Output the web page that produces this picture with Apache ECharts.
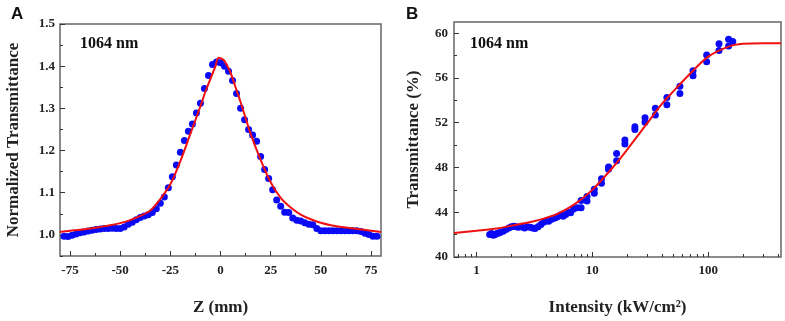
<!DOCTYPE html>
<html>
<head>
<meta charset="utf-8">
<script src="https://cdn.jsdelivr.net/npm/echarts@6/dist/echarts.min.js"></script>
<style>
  html, body { margin: 0; padding: 0; background: #fff; }
  #chart { width: 785px; height: 321px; }
</style>
</head>
<body>
<div id="chart"></div>
<script>
// panel A: Z-scan, normalized transmittance (dots) and fit (line)
const zA = [-78, -76, -74, -72, -70, -68, -66, -64, -62, -60, -58, -56, -54, -52, -50, -48, -46, -44, -42, -40,
  -38, -36, -34, -32, -30, -28, -26, -24, -22, -20, -18, -16, -14, -12, -10, -8, -6, -4, -2, 0,
  2, 4, 6, 8, 10, 12, 14, 16, 18, 20, 22, 24, 26, 28, 30, 32, 34, 36, 38, 40,
  42, 44, 46, 48, 50, 52, 54, 56, 58, 60, 62, 64, 66, 68, 70, 72, 74, 76, 78];
const tA = [0.997, 0.996, 0.999, 1.002, 1.005, 1.007, 1.009, 1.011, 1.013, 1.014, 1.015, 1.015, 1.016, 1.015, 1.015, 1.019, 1.025, 1.030, 1.036, 1.041,
  1.045, 1.048, 1.053, 1.062, 1.075, 1.090, 1.112, 1.138, 1.166, 1.196, 1.224, 1.246, 1.263, 1.289, 1.312, 1.347, 1.378, 1.404, 1.410, 1.408,
  1.400, 1.388, 1.366, 1.335, 1.300, 1.273, 1.250, 1.237, 1.222, 1.186, 1.155, 1.134, 1.107, 1.083, 1.068, 1.054, 1.053, 1.040, 1.035, 1.033,
  1.029, 1.025, 1.024, 1.015, 1.010, 1.010, 1.010, 1.010, 1.010, 1.010, 1.010, 1.010, 1.010, 1.010, 1.008, 1.004, 1.001, 0.997, 0.997];
const zFitA = [-80, -75, -70, -65, -60, -55, -50, -45, -40, -35, -30, -25, -20, -15, -10, -7.5, -5, -2.5, -1, 1.5,
  2.5, 5, 7.5, 10, 15, 20, 25, 30, 35, 40, 45, 50, 55, 60, 65, 70, 75, 80];
const tFitA = [1.007, 1.010, 1.012, 1.015, 1.019, 1.023, 1.028, 1.035, 1.045, 1.058, 1.085, 1.120, 1.175, 1.240, 1.305, 1.340, 1.370, 1.400, 1.420, 1.415,
  1.408, 1.385, 1.350, 1.315, 1.240, 1.178, 1.125, 1.088, 1.065, 1.048, 1.037, 1.029, 1.023, 1.019, 1.016, 1.013, 1.010, 1.007];
const xLabelsA = [-75, -50, -25, 0, 25, 50, 75];
const xMinorA = [-62.5, -37.5, -12.5, 12.5, 37.5, 62.5];
const yLabelsA = [1.0, 1.1, 1.2, 1.3, 1.4, 1.5];
const yMinorA = [0.95, 1.05, 1.15, 1.25, 1.35, 1.45];

// panel B: transmittance vs intensity
const intensityB = [1.30, 1.35, 1.40, 1.45, 1.50, 1.55, 1.60, 1.70, 1.80, 1.90, 2.0, 2.1, 2.2, 2.3, 2.45, 2.6, 2.75, 2.9, 3.05, 3.2,
  3.4, 3.6, 3.8, 4.0, 4.2, 4.4, 4.6, 4.8, 5.0, 5.3, 5.6, 5.9, 6.2, 6.5, 6.9, 7.4, 8.0, 8.0, 9.0, 9.0,
  10.4, 10.4, 12.0, 12.0, 13.8, 13.8, 16.2, 16.2, 19.1, 19.1, 23.3, 23.3, 28.5, 28.5, 35, 35, 44, 44, 57, 57,
  74, 74, 97, 97, 124, 124, 150, 150, 163];
const transB = [42.0, 42.1, 41.95, 42.0, 42.1, 42.15, 42.2, 42.3, 42.45, 42.6, 42.7, 42.75, 42.7, 42.65, 42.7, 42.6, 42.7, 42.65, 42.6, 42.55,
  42.7, 42.9, 43.1, 43.25, 43.2, 43.35, 43.45, 43.5, 43.6, 43.75, 43.65, 43.8, 44.0, 43.95, 44.3, 44.4, 44.4, 45.05, 45.0, 45.4,
  45.7, 46.05, 46.6, 47.0, 47.85, 48.05, 48.6, 49.25, 50.1, 50.45, 51.4, 51.65, 52.05, 52.45, 52.7, 53.3, 53.6, 54.25, 54.6, 55.25,
  56.2, 56.65, 57.45, 58.05, 58.45, 59.05, 58.85, 59.45, 59.25];
const intensityFitB = [0.64, 1, 1.5, 2, 3, 4, 5, 7, 10, 15, 20, 30, 40, 50, 70, 100, 150, 200, 300, 425];
const transFitB = [42.15, 42.35, 42.55, 42.8, 43.15, 43.5, 43.85, 44.7, 46.0, 48.0, 49.6, 52.0, 53.7, 54.8, 56.4, 57.9, 58.8, 59.05, 59.1, 59.1];
const xLabelsB = [1, 10, 100];
const xMinorB = [0.7, 0.8, 0.9, 2, 3, 4, 5, 6, 7, 8, 9, 20, 30, 40, 50, 60, 70, 80, 90, 200, 300, 400];
const yLabelsB = [40, 44, 48, 52, 56, 60];
const yMinorB = [42, 46, 50, 54, 58];

const serif = "'Liberation Serif', 'Times New Roman', serif";
const tickColor = "#333";
const labelStyle = { fontFamily: serif, fontWeight: "bold", fontSize: 13, color: "#222" };
const nameStyle = { fontFamily: serif, fontWeight: "bold", fontSize: 17, color: "#222" };

const pair = (xs, ys) => xs.map((x, i) => [x, ys[i]]);

const majorAxis = (extra, labels, margin, fmt) => Object.assign({
  axisLine: { show: false, onZero: false },
  splitLine: { show: false },
  axisTick: { show: true, inside: true, length: 5, customValues: labels, lineStyle: { color: tickColor, width: 1 } },
  axisLabel: Object.assign({ margin: margin, customValues: labels, formatter: fmt }, labelStyle),
}, extra);

const minorAxis = (extra, ticks) => Object.assign({
  axisLine: { show: false, onZero: false },
  splitLine: { show: false },
  axisLabel: { show: false },
  axisTick: { show: true, inside: true, length: 3, customValues: ticks, lineStyle: { color: tickColor, width: 1 } },
}, extra);

const plain = (v) => String(v);
const oneDecimal = (v) => Number(v).toFixed(1);

const chart = echarts.init(document.getElementById("chart"));
chart.setOption({
  backgroundColor: "#fff",
  animation: false,
  grid: [
    { left: 60, top: 24, width: 321, height: 237, show: true, borderColor: "#666", borderWidth: 1.5, backgroundColor: "#fff" },
    { left: 454, top: 22, width: 327, height: 240, show: true, borderColor: "#666", borderWidth: 1.5, backgroundColor: "#fff" },
  ],
  xAxis: [
    majorAxis({ type: "value", gridIndex: 0, position: "bottom", min: -80, max: 80,
      name: "Z (mm)", nameLocation: "middle", nameGap: 43, nameTextStyle: nameStyle }, xLabelsA, 8, plain),
    minorAxis({ type: "value", gridIndex: 0, position: "bottom", min: -80, max: 80 }, xMinorA),
    majorAxis({ type: "log", gridIndex: 1, position: "bottom", min: 0.64, max: 425,
      name: "Intensity (kW/cm²)", nameLocation: "middle", nameGap: 42, nameTextStyle: nameStyle }, xLabelsB, 7, plain),
    minorAxis({ type: "log", gridIndex: 1, position: "bottom", min: 0.64, max: 425 }, xMinorB),
  ],
  yAxis: [
    majorAxis({ type: "value", gridIndex: 0, position: "left", min: 0.95, max: 1.5,
      name: "Normalized Transmittance", nameLocation: "middle", nameGap: 38, nameTextStyle: nameStyle }, yLabelsA, 5, oneDecimal),
    minorAxis({ type: "value", gridIndex: 0, position: "left", min: 0.95, max: 1.5 }, yMinorA),
    majorAxis({ type: "value", gridIndex: 1, position: "left", min: 40, max: 61,
      name: "Transmittance (%)", nameLocation: "middle", nameGap: 32, nameTextStyle: nameStyle }, yLabelsB, 6, plain),
    minorAxis({ type: "value", gridIndex: 1, position: "left", min: 40, max: 61 }, yMinorB),
  ],
  graphic: [
    { type: "text", left: 11, top: 6, style: { text: "A", font: "bold 17px 'Liberation Sans', Arial, sans-serif", fill: "#111" } },
    { type: "text", left: 406, top: 6, style: { text: "B", font: "bold 17px 'Liberation Sans', Arial, sans-serif", fill: "#111" } },
    { type: "text", left: 80, top: 36, style: { text: "1064 nm", font: "bold 16px " + serif, fill: "#111" } },
    { type: "text", left: 470, top: 36, style: { text: "1064 nm", font: "bold 16px " + serif, fill: "#111" } },
  ],
  series: [
    {
      type: "scatter", xAxisIndex: 0, yAxisIndex: 0, symbolSize: 7,
      itemStyle: { color: "#0a0af5", opacity: 1 },
      data: pair(zA, tA),
    },
    {
      type: "line", xAxisIndex: 0, yAxisIndex: 0, smooth: 0.3, showSymbol: false,
      lineStyle: { color: "#f01010", width: 2 },
      data: pair(zFitA, tFitA),
    },
    {
      type: "scatter", xAxisIndex: 2, yAxisIndex: 2, symbolSize: 7,
      itemStyle: { color: "#0a0af5", opacity: 1 },
      data: pair(intensityB, transB),
    },
    {
      type: "line", xAxisIndex: 2, yAxisIndex: 2, smooth: 0.3, showSymbol: false,
      lineStyle: { color: "#f01010", width: 2 },
      data: pair(intensityFitB, transFitB),
    },
  ],
});
</script>
</body>
</html>
